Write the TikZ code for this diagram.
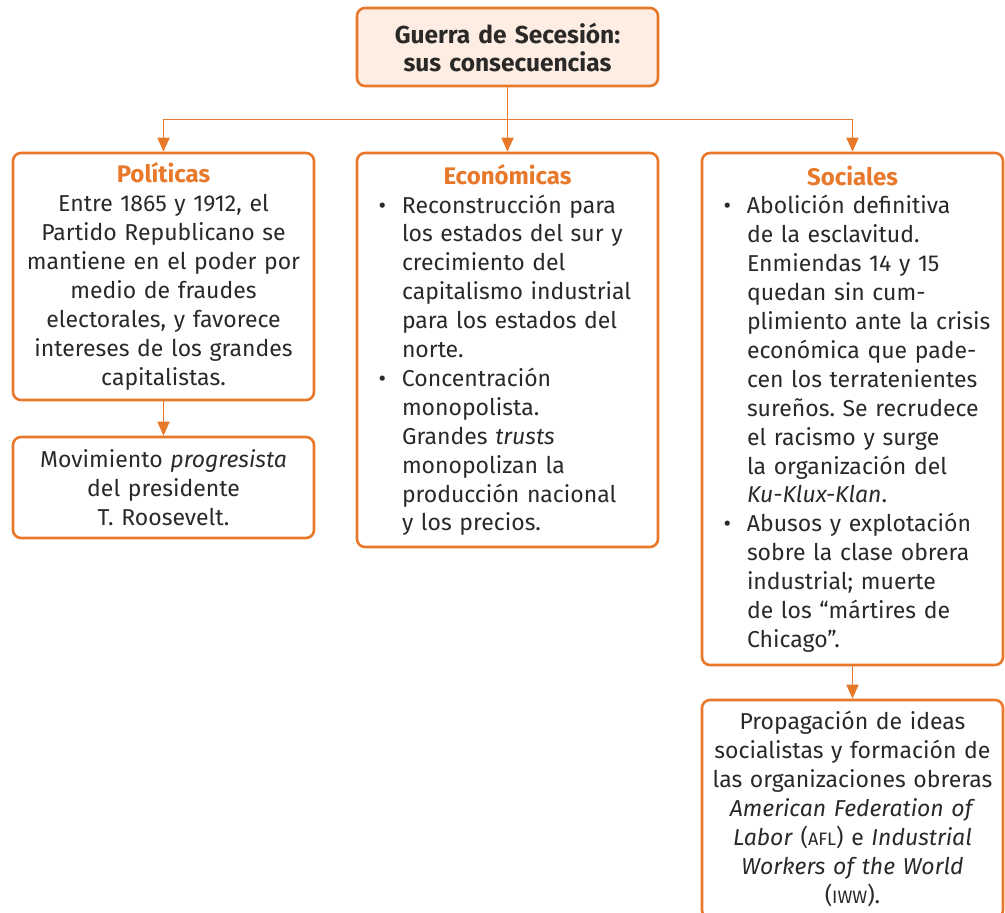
\documentclass[tikz,border=0pt]{standalone}
\usepackage{fontspec}
\setmainfont{Fira Sans}
\usetikzlibrary{arrows.meta,positioning,calc}
\definecolor{naranja}{HTML}{E8782A}
\definecolor{crema}{HTML}{FDEDE2}
\definecolor{texto}{HTML}{2A2928}
\newcommand\titulo[1]{{\fontsize{24}{28.9}\selectfont\bfseries\color{naranja}#1}\par}
\newcommand\vin{\leavevmode\llap{\textbullet\hspace{16pt}}}
\newcommand\sigla[1]{{\fontsize{18}{20}\selectfont #1}}
\frenchspacing

\tikzset{
  caja/.style={draw=naranja, line width=2.6pt, rounded corners=8pt,
    minimum width=301pt, inner sep=0pt, text=texto,
    font=\fontsize{23}{28.9}\selectfont},
  centrada/.style={caja, text width=282pt, align=center},
  lista/.style={caja, text width=277pt},
  conexion/.style={draw=naranja, line width=1.7pt,
    -{Triangle[length=14pt,width=12pt]}}
}

\begin{document}
\begin{tikzpicture}[x=1pt,y=-1pt]
  \useasboundingbox (0,0) rectangle (1005,913);

  % title
  \node[centrada, fill=crema, minimum height=78pt, font=\fontsize{24.5}{28}\selectfont\bfseries]
    (raiz) at (507.5,47) {Guerra de Secesión:\\sus consecuencias};

  % Politicas column
  \node[centrada, minimum height=247pt] (pol) at (163.5,276.5) {%
    \titulo{Políticas}
    Entre 1865 y 1912, el\\
    Partido Republicano se\\
    mantiene en el poder por\\
    medio de fraudes\\
    electorales, y favorece\\
    intereses de los grandes\\
    capitalistas.};
  \node[centrada, minimum height=101pt] (prog) at (163.5,487.5) {%
    Movimiento \emph{progresista}\\
    del presidente\\
    T. Roosevelt.};

  % Economicas column
  \node[lista, minimum height=394pt] (econ) at (507.5,350) {%
    {\centering\titulo{Económicas}}
    \raggedright\setlength{\leftskip}{33pt}\setlength{\parindent}{0pt}%
    \vin Reconstrucción para\\
    los estados del sur y\\
    crecimiento del\\
    capitalismo industrial\\
    para los estados del\\
    norte.\par
    \vin Concentración\\
    monopolista.\\
    Grandes \emph{trusts}\\
    monopolizan la\\
    producción nacional\\
    y los precios.\par};

  % Sociales column
  \node[lista, minimum height=512pt] (soc) at (852.5,409) {%
    {\centering\titulo{Sociales}}
    \raggedright\setlength{\leftskip}{33pt}\setlength{\parindent}{0pt}%
    \vin Abolición definitiva\\
    de la esclavitud.\\
    Enmiendas 14 y 15\\
    quedan sin cum-\\
    plimiento ante la crisis\\
    económica que pade-\\
    cen los terratenientes\\
    sureños. Se recrudece\\
    el racismo y surge\\
    la organización del\\
    \emph{Ku-Klux-Klan}.\par
    \vin Abusos y explotación\\
    sobre la clase obrera\\
    industrial; muerte\\
    de los “mártires de\\
    Chicago”.\par};
  \node[centrada, minimum height=218pt] (afl) at (852.5,809) {%
    Propagación de ideas\\
    socialistas y formación de\\
    las organizaciones obreras\\
    \emph{American Federation of}\\
    \emph{Labor} (\sigla{AFL}) e \emph{Industrial}\\
    \emph{Workers of the World}\\
    (\sigla{IWW}).};

  % connectors
  \coordinate (bus) at ($(raiz.south)!0.5!(econ.north)$);
  \draw[conexion] (raiz.south) -- (econ.north);
  \draw[conexion] (bus) -| (pol.north);
  \draw[conexion] (bus) -| (soc.north);
  \draw[conexion] (pol.south) -- (prog.north);
  \draw[conexion] (soc.south) -- (afl.north);
\end{tikzpicture}
\end{document}
